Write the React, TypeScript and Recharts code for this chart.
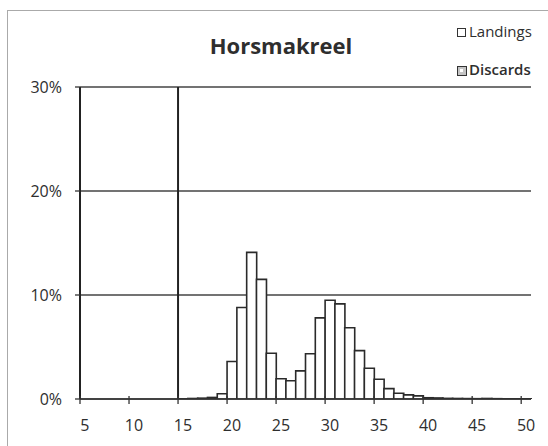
import React from "react";
import { BarChart, Bar, XAxis, YAxis, CartesianGrid, ReferenceLine } from "recharts";

const lengths: number[] = [
  5, 6, 7, 8, 9, 10, 11, 12, 13, 14, 15, 16, 17, 18, 19, 20, 21, 22, 23, 24, 25, 26, 27,
  28, 29, 30, 31, 32, 33, 34, 35, 36, 37, 38, 39, 40, 41, 42, 43, 44, 45, 46, 47, 48, 49, 50,
];
const landings: number[] = [
  0, 0, 0, 0, 0, 0, 0, 0, 0, 0, 0.02, 0.05, 0.08, 0.15, 0.5, 3.6, 8.8, 14.1, 11.5, 4.4,
  1.95, 1.75, 2.7, 4.35, 7.8, 9.5, 9.15, 6.85, 4.65, 2.95, 1.9, 1.0, 0.55, 0.4, 0.3, 0.12,
  0.1, 0.06, 0.05, 0.04, 0.03, 0.05, 0.03, 0.02, 0.02, 0.02,
];
const discards: number[] = [
  0, 0, 0, 0, 0, 0, 0, 0, 0, 0, 0, 0, 0, 0, 0, 0, 0, 0, 0, 0, 0, 0, 0, 0, 0, 0, 0, 0, 0,
  0, 0, 0, 0, 0, 0, 0, 0, 0, 0, 0, 0, 0, 0, 0, 0, 0,
];
const yTicks: number[] = [0, 10, 20, 30];
const labelEvery = 5;
const minLegalSize = 15;
const title = "Horsmakreel";
const seriesNames = ["Landings", "Discards"];

const data = lengths.map((len, i) => ({ len, landings: landings[i], discards: discards[i] }));

const W = 548;
const H = 446;
const M = { top: 87, right: 17, bottom: 17, left: 0 };
const Y_W = 80;
const X_H = 30;
const plotW = W - M.left - M.right - Y_W;
const halfBand = plotW / lengths.length / 2;

const FONT = "'Open Sans', 'DejaVu Sans', sans-serif";
const TXT = "#2e2e2e";

const XTick = (props: any) => {
  const { x, y, payload } = props;
  if (payload.value % labelEvery !== 0) return null;
  return (
    <g>
      <line x1={x - halfBand} x2={x - halfBand} y1={y - 3} y2={y + 5} stroke="#333" strokeWidth={1.3} />
      <text x={x} y={y + 32} textAnchor="middle" fontFamily={FONT} fontSize={16} fill={TXT}>
        {payload.value}
      </text>
    </g>
  );
};

export default function App() {
  return (
    <div style={{ position: "relative", width: W, height: H, background: "#fff" }}>
      <style>{`body{margin:0;overflow:hidden;background:#fff}`}</style>
      <div
        style={{
          position: "absolute",
          left: 7,
          top: 10,
          width: W - 7,
          height: H - 10,
          boxSizing: "border-box",
          borderLeft: "1px solid #aaa",
          borderTop: "1px solid #aaa",
        }}
      />
      <div style={{ position: "absolute", left: 0, top: 0 }}>
        <BarChart width={W} height={H} data={data} margin={M} barCategoryGap={0} barGap={0}>
          <CartesianGrid vertical={false} stroke="#444" strokeWidth={1.3} />
          <XAxis
            dataKey="len"
            interval={0}
            height={X_H}
            tickSize={0}
            tickMargin={0}
            tickLine={false}
            axisLine={{ stroke: "#333", strokeWidth: 1.6 }}
            tick={<XTick />}
          />
          <YAxis
            width={Y_W}
            domain={[0, 30]}
            ticks={yTicks}
            allowDataOverflow
            tickFormatter={(v: number) => `${v}%`}
            tickSize={5}
            tickMargin={13}
            tickLine={{ stroke: "#333", strokeWidth: 1.3 }}
            axisLine={{ stroke: "#222", strokeWidth: 2 }}
            tick={{ fontFamily: FONT, fontSize: 16, fill: TXT }}
          />
          <Bar
            dataKey="landings"
            name={seriesNames[0]}
            stackId="a"
            fill="#fff"
            stroke="#2a2a2a"
            strokeWidth={1.6}
            isAnimationActive={false}
          />
          <Bar
            dataKey="discards"
            name={seriesNames[1]}
            stackId="a"
            fill="#c4c4c4"
            stroke="#2a2a2a"
            strokeWidth={1.6}
            isAnimationActive={false}
          />
          <ReferenceLine x={minLegalSize} position="start" stroke="#222" strokeWidth={2} />
        </BarChart>
      </div>
      <div
        style={{
          position: "absolute",
          left: 281 - 150,
          top: 34,
          width: 300,
          textAlign: "center",
          fontFamily: FONT,
          fontWeight: 700,
          fontSize: 22,
          lineHeight: "22px",
          color: TXT,
        }}
      >
        {title}
      </div>
      <div style={{ position: "absolute", left: 457, top: 28, width: 9, height: 9, boxSizing: "border-box", border: "1.5px solid #333", background: "#fff" }} />
      <div style={{ position: "absolute", left: 469, top: 24, fontFamily: FONT, fontSize: 15, lineHeight: "15px", color: TXT }}>
        {seriesNames[0]}
      </div>
      <div style={{ position: "absolute", left: 457, top: 66, width: 10, height: 10, boxSizing: "border-box", border: "1.5px solid #333", background: "#c4c4c4" }}>
        <div style={{ position: "absolute", left: 2, top: 2, width: 3, height: 3, background: "#fff" }} />
      </div>
      <div style={{ position: "absolute", left: 469, top: 62, fontFamily: FONT, fontSize: 15, fontWeight: 600, lineHeight: "15px", color: TXT }}>
        {seriesNames[1]}
      </div>
    </div>
  );
}
